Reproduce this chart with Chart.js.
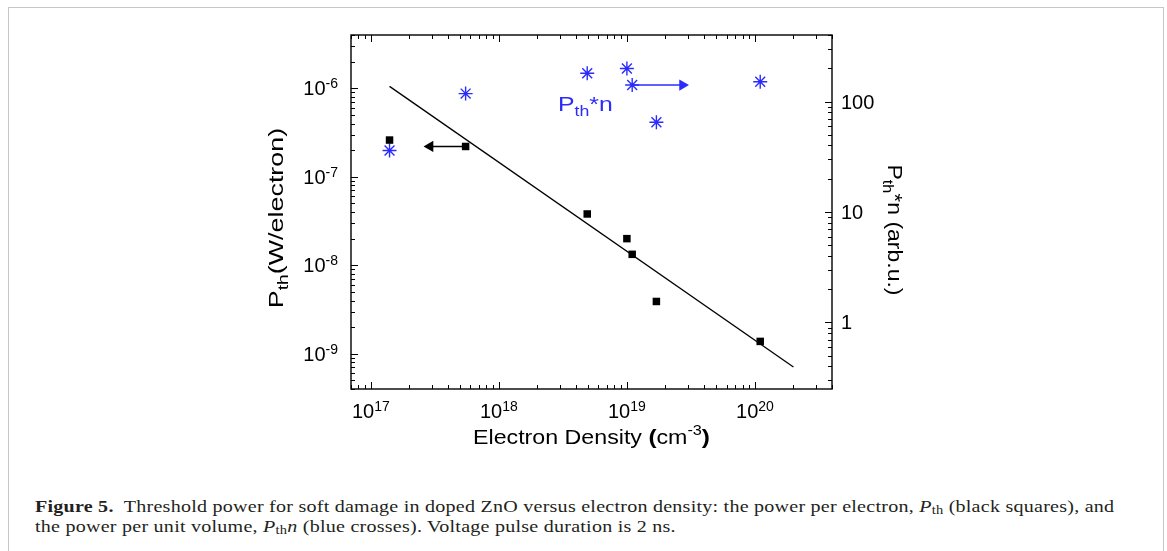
<!DOCTYPE html>
<html>
<head>
<meta charset="utf-8">
<script src="https://cdn.jsdelivr.net/npm/chart.js@4.4.0/dist/chart.umd.min.js"></script>
<style>
  body { margin: 0; background: #fff; width: 1167px; height: 551px; overflow: hidden; position: relative; }
  #frame { position: absolute; left: 8px; top: 7px; width: 1154px; height: 570px; border: 1.5px solid #c6c6c6; }
  #wrap { position: absolute; left: 0; top: 0; width: 1167px; height: 460px; }
  #caption { position: absolute; left: 35px; top: 497px; font-family: "Liberation Serif", serif; font-size: 17px;
             line-height: 19.5px; color: #231f20; white-space: nowrap; letter-spacing: 0.2px;
             transform: scaleX(1.18); transform-origin: 0 0; }
  #caption sub { font-size: 0.72em; vertical-align: -0.2em; line-height: 0; }
</style>
</head>
<body>
<div id="frame"></div>
<div id="wrap"><canvas id="chart"></canvas></div>
<div id="caption"><b>Figure 5.</b>&nbsp; Threshold power for soft damage in doped ZnO versus electron density: the power per electron, <i>P</i><sub>th</sub> (black squares), and<br>the power per unit volume, <i>P</i><sub>th</sub><i>n</i> (blue crosses). Voltage pulse duration is 2 ns.</div>
<script>
// electron density (cm^-3) of the samples
const density = [1.4e17, 5.5e17, 4.9e18, 1.0e19, 1.1e19, 1.7e19, 1.1e20];
// threshold power per electron (W/electron), black squares, left axis
const powerPerElectron = [2.6e-7, 2.2e-7, 3.8e-8, 2.0e-8, 1.33e-8, 3.9e-9, 1.38e-9];
// power per unit volume Pth*n (arb.u.), blue crosses, right axis
const powerPerVolume = [36, 118, 180, 199, 141, 65, 151];

// straight fit through the squares
const fitDensity = [1.4e17, 2.0e20];
const fitPower = [1.05e-6, 7.1e-10];

// arrows pointing to the axis each series belongs to
const leftArrowX = [5.5e17, 2.9e17];
const leftArrowY = [2.2e-7, 2.2e-7];
const rightArrowX = [1.1e19, 2.72e19];
const rightArrowY = [141, 141];

// tick labels
const xExponents = ['17', '18', '19', '20'];
const leftExponents = ['-9', '-8', '-7', '-6'];
const rightLabels = ['1', '10', '100'];

const blue = '#2b2bff';
const sans = '"Liberation Sans", Arial, sans-serif';

function pts(xs, ys) {
    return xs.map((x, i) => ({ x: x, y: ys[i] }));
}

// ticks at 1..9 x 10^n, like the original plot
function logTicks(scale) {
    const ticks = [];
    const lo = Math.floor(Math.log10(scale.min));
    const hi = Math.ceil(Math.log10(scale.max));
    for (let e = lo; e <= hi; e++) {
        for (let m = 1; m <= 9; m++) {
            const v = m * Math.pow(10, e);
            if (v >= scale.min * 0.999 && v <= scale.max * 1.001) ticks.push({ value: v, major: m === 1 });
        }
    }
    scale.ticks = ticks;
}

// text made of pieces (sub/superscripts), optionally rotated and stretched along the text
function drawRich(ctx, parts, x, y, align, angle, sx) {
    ctx.save();
    ctx.translate(x, y);
    ctx.rotate(angle || 0);
    ctx.scale(sx || 1, 1);
    let total = 0;
    parts.forEach(p => {
        ctx.font = p.font;
        p.w = ctx.measureText(p.text).width;
        total += p.w;
    });
    let cx = align === 'center' ? -total / 2 : (align === 'right' ? -total : 0);
    ctx.textAlign = 'left';
    ctx.textBaseline = 'alphabetic';
    parts.forEach(p => {
        ctx.font = p.font;
        ctx.fillText(p.text, cx, p.dy || 0);
        cx += p.w;
    });
    ctx.restore();
}

function pow10(exp) {
    return [
        { text: '10', font: '20px ' + sans },
        { text: exp, font: '14px ' + sans, dy: -7 }
    ];
}

const framePlugin = {
    id: 'frame',
    afterDraw(chart) {
        const { ctx, chartArea: a, scales } = chart;
        ctx.save();
        ctx.strokeStyle = '#000';
        ctx.lineWidth = 1.4;
        ctx.strokeRect(a.left, a.top, a.right - a.left, a.bottom - a.top);

        // inward ticks on all four sides
        ctx.lineWidth = 1;
        ctx.beginPath();
        scales.x.ticks.forEach(t => {
            const p = Math.round(scales.x.getPixelForValue(t.value)) + 0.5;
            const len = t.major ? 7 : 4;
            ctx.moveTo(p, a.bottom); ctx.lineTo(p, a.bottom - len);
            ctx.moveTo(p, a.top); ctx.lineTo(p, a.top + len);
        });
        scales.y.ticks.forEach(t => {
            const p = Math.round(scales.y.getPixelForValue(t.value)) + 0.5;
            ctx.moveTo(a.left, p); ctx.lineTo(a.left + (t.major ? 7 : 4), p);
        });
        scales.y2.ticks.forEach(t => {
            const p = Math.round(scales.y2.getPixelForValue(t.value)) + 0.5;
            ctx.moveTo(a.right, p); ctx.lineTo(a.right - (t.major ? 7 : 4), p);
        });
        ctx.stroke();

        ctx.fillStyle = '#000';
        xExponents.forEach(e => {
            const px = scales.x.getPixelForValue(Math.pow(10, +e));
            drawRich(ctx, pow10(e), px, a.bottom + 29, 'center');
        });
        leftExponents.forEach(e => {
            const py = scales.y.getPixelForValue(Math.pow(10, +e));
            drawRich(ctx, pow10(e), a.left - 13, py + 7, 'right');
        });
        rightLabels.forEach(l => {
            const py = scales.y2.getPixelForValue(+l);
            drawRich(ctx, [{ text: l, font: '20px ' + sans }], a.right + 9, py + 7, 'left');
        });

        // axis titles
        drawRich(ctx, [
            { text: 'Electron Density ', font: '20px ' + sans },
            { text: '(', font: 'bold 21px ' + sans },
            { text: 'cm', font: '20px ' + sans },
            { text: '-3', font: '14px ' + sans, dy: -9 },
            { text: ')', font: 'bold 21px ' + sans }
        ], (a.left + a.right) / 2, a.bottom + 55, 'center', 0, 1.16);

        drawRich(ctx, [
            { text: 'P', font: '21px ' + sans },
            { text: 'th', font: '15px ' + sans, dy: 5 },
            { text: '(W/electron)', font: '21px ' + sans }
        ], 283, 218, 'center', -Math.PI / 2, 1.28);

        drawRich(ctx, [
            { text: 'P', font: '20px ' + sans },
            { text: 'th', font: '14px ' + sans, dy: 5 },
            { text: '*n (arb.u.)', font: '20px ' + sans }
        ], 888, 230, 'center', Math.PI / 2, 1.15);

        // series label
        ctx.fillStyle = blue;
        const lx = scales.x.getPixelForValue(2.9e18);
        const ly = scales.y2.getPixelForValue(95);
        drawRich(ctx, [
            { text: 'P', font: '21px ' + sans },
            { text: 'th', font: '15px ' + sans, dy: 5 },
            { text: '*n', font: '21px ' + sans }
        ], lx, ly + 7, 'left', 0, 1.18);
        ctx.restore();
    }
};

const ctx = document.getElementById('chart').getContext('2d');
new Chart(ctx, {
    type: 'scatter',
    data: {
        datasets: [
            {
                label: 'fit',
                data: pts(fitDensity, fitPower),
                yAxisID: 'y',
                showLine: true,
                borderColor: '#000',
                borderWidth: 1.3,
                pointRadius: 0
            },
            {
                label: 'Pth',
                data: pts(density, powerPerElectron),
                yAxisID: 'y',
                pointStyle: 'rect',
                pointRadius: 5.3,
                pointBackgroundColor: '#000',
                pointBorderColor: '#000',
                pointBorderWidth: 0
            },
            {
                label: 'Pth*n',
                data: pts(density, powerPerVolume),
                yAxisID: 'y2',
                pointStyle: 'star',
                pointRadius: 7,
                pointBorderColor: blue,
                pointBackgroundColor: blue,
                pointBorderWidth: 1.4
            },
            {
                label: 'arrow left',
                data: pts(leftArrowX, leftArrowY),
                yAxisID: 'y',
                showLine: true,
                borderColor: '#000',
                borderWidth: 1.3,
                pointStyle: 'triangle',
                pointRadius: [0, 6.5],
                pointRotation: [0, -90],
                pointBackgroundColor: '#000',
                pointBorderWidth: 0
            },
            {
                label: 'arrow right',
                data: pts(rightArrowX, rightArrowY),
                yAxisID: 'y2',
                showLine: true,
                borderColor: blue,
                borderWidth: 1.5,
                pointStyle: 'triangle',
                pointRadius: [0, 6.5],
                pointRotation: [0, 90],
                pointBackgroundColor: blue,
                pointBorderWidth: 0
            }
        ]
    },
    options: {
        responsive: true,
        maintainAspectRatio: false,
        animation: false,
        events: [],
        layout: { padding: { top: 35, left: 0, right: 0, bottom: 0 } },
        plugins: {
            legend: { display: false },
            tooltip: { enabled: false }
        },
        scales: {
            x: {
                type: 'logarithmic', position: 'bottom', min: 7e16, max: 4e20,
                grid: { display: false }, border: { display: false }, ticks: { display: false },
                afterBuildTicks: logTicks,
                afterFit: s => { s.height = 71; }
            },
            y: {
                type: 'logarithmic', position: 'left', min: 4e-10, max: 4e-6,
                grid: { display: false }, border: { display: false }, ticks: { display: false },
                afterBuildTicks: logTicks,
                afterFit: s => { s.width = 351; }
            },
            y2: {
                type: 'logarithmic', position: 'right', min: 0.25, max: 400,
                grid: { display: false }, border: { display: false }, ticks: { display: false },
                afterBuildTicks: logTicks,
                afterFit: s => { s.width = 335; }
            }
        }
    },
    plugins: [framePlugin]
});
</script>
</body>
</html>
